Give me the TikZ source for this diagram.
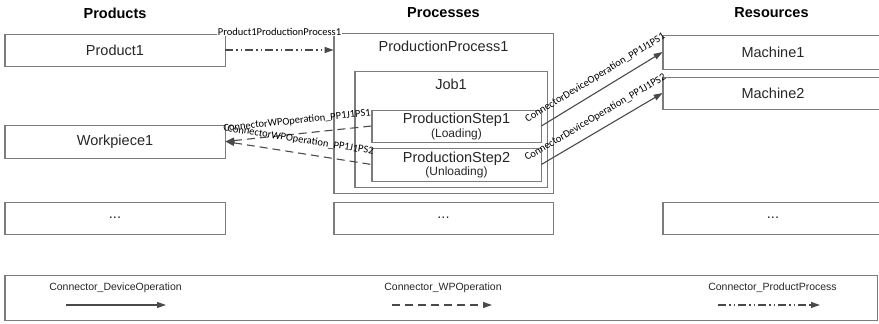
\documentclass[tikz,border=0pt]{standalone}
\usepackage{fontspec}
\setmainfont{Liberation Sans}
\newfontfamily\lblfont{Carlito}
\usetikzlibrary{arrows.meta}

\definecolor{boxgray}{HTML}{7C7C7C}
\definecolor{linegray}{HTML}{4A4A4A}
\definecolor{txt}{HTML}{262626}

\begin{document}
\begin{tikzpicture}[x=1pt,y=-1pt,
  box/.style={draw=boxgray, line width=0.7pt, inner sep=0pt, rectangle,
    font=\fontsize{14.5}{16}\selectfont, text=txt},
  boxedge/.style={draw=boxgray, line width=1.6pt, line join=miter},
  title/.style={font=\fontsize{14.5}{16}\selectfont\bfseries, inner sep=0pt},
  steptext/.style={align=center, font=\fontsize{14.5}{15}\selectfont},
  conn/.style={draw=linegray, line width=1.1pt},
  devop/.style={conn, -{Triangle[length=9pt,width=6pt]}},
  wpop/.style={conn, dash pattern=on 8pt off 5pt},
  wpopin/.style={wpop, {Triangle[length=9pt,width=6pt]}-},
  wpopout/.style={wpop, -{Triangle[length=9pt,width=6pt]}},
  prodproc/.style={conn, dash pattern=on 8pt off 3pt on 1.5pt off 3pt on 1.5pt off 3pt,
    -{Triangle[length=9pt,width=6pt]}},
  clabel/.style={font=\lblfont\fontsize{10.5}{12}\selectfont, inner sep=1pt, sloped, above=7pt},
  legtext/.style={font=\fontsize{10.5}{12}\selectfont, inner sep=0pt, text=txt},
]
\useasboundingbox (0,0) rectangle (879,324);
\clip (0,0) rectangle (879,324);

% column headings
\node[title] (hprod) at (115,13) {Products};
\node[title] (hproc) at (443.5,13) {Processes};
\node[title] (hres)  at (771.5,13) {Resources};

% products
\node[box, minimum width=220pt, minimum height=32pt] (p1) at (115,50) {Product1};
\node[box, minimum width=220pt, minimum height=33pt] (wp) at (115,141.5) {Workpiece1};
\node[box, minimum width=220pt, minimum height=32pt] (pdots) at (115,218) {...};

% processes: nested process / job / steps
\node[box, minimum width=219pt, minimum height=160pt] (pp) at (443.5,113) {};
\node[inner sep=0pt, font=\fontsize{14.5}{16}\selectfont, text=txt] (pptitle) at (443.5,46) {ProductionProcess1};
\node[box, minimum width=192pt, minimum height=116pt] (job) at (451,129) {};
\node[inner sep=0pt, font=\fontsize{14.5}{16}\selectfont, text=txt] (jobtitle) at (451,84) {Job1};
\node[box, minimum width=169pt, minimum height=32pt, steptext] (ps1) at (456.5,126)
  {ProductionStep1\\[-1pt]{\fontsize{12}{13}\selectfont (Loading)}};
\node[box, minimum width=169pt, minimum height=33pt, steptext] (ps2) at (456.5,164.5)
  {ProductionStep2\\[-2pt]{\fontsize{12}{13}\selectfont (Unloading)}};
\node[box, minimum width=219pt, minimum height=32pt] (qdots) at (443.5,218) {...};

% resources
\node[box, minimum width=220pt, minimum height=34pt] (m1) at (773,52) {Machine1};
\node[box, minimum width=220pt, minimum height=32pt] (m2) at (773,93) {Machine2};
\node[box, minimum width=220pt, minimum height=32pt] (rdots) at (773,218) {...};

% legend frame
\node[box, minimum width=872pt, minimum height=45pt] (legend) at (441,297.5) {};

% heavier left, bottom and right edges on every box
\foreach \n in {p1,wp,pdots,pp,job,ps1,ps2,qdots,m1,m2,rdots,legend}
  \draw[boxedge] (\n.north west) |- (\n.south east) -- (\n.north east);

% connectors
\draw[prodproc] (p1.east) -- node[clabel, fill=white, above=6pt] {Product1ProductionProcess1} (p1.east -| pp.west);
\draw[wpopin] (wp.east) -- node[clabel] {ConnectorWPOperation\_PP1J1PS1} (ps1.west);
\draw[wpopin] (wp.east) -- node[clabel] {ConnectorWPOperation\_PP1J1PS2} (ps2.west);
\draw[devop] (ps1.east) -- node[clabel] {ConnectorDeviceOperation\_PP1J1PS1} (m1.west);
\draw[devop] (ps2.east) -- node[clabel] {ConnectorDeviceOperation\_PP1J1PS2} (m2.west);

% legend entries
\node[legtext] (lt1) at (115.5,288) {Connector\_DeviceOperation};
\node[legtext] (lt2) at (443,288) {Connector\_WPOperation};
\node[legtext] (lt3) at (772.5,288) {Connector\_ProductProcess};
\coordinate (la1) at (66,305);  \coordinate (lb1) at (166,305);
\coordinate (la2) at (392,305); \coordinate (lb2) at (492,305);
\coordinate (la3) at (718,305); \coordinate (lb3) at (820,305);
\draw[devop] (la1) -- (lb1);
\draw[wpopout] (la2) -- (lb2);
\draw[prodproc] (la3) -- (lb3);
\end{tikzpicture}
\end{document}
